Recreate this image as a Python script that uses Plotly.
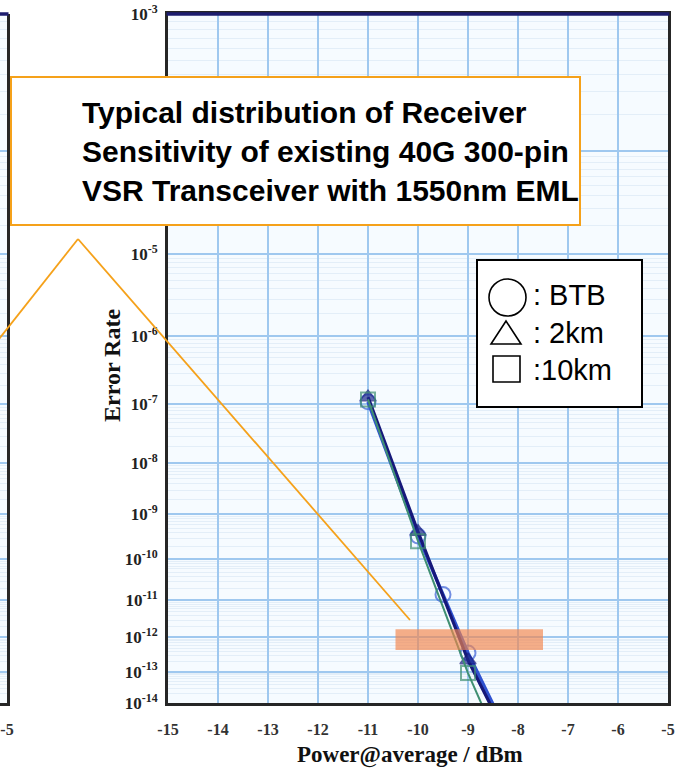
import numpy as np
import plotly.graph_objects as go

# ---- data -------------------------------------------------------------
# Optical power (dBm) and measured bit error rate for each link length.
# The last entry of each series continues the trend line below the axis floor.
power_btb = [-11, -10, -9.5, -9, -8.5]
ber_btb = [1.1e-7, 3.4e-10, 1.4e-11, 3.6e-13, 9e-15]

power_2km = [-11, -10, -9, -8.5]
ber_2km = [1.3e-7, 4.2e-10, 2.2e-13, 6e-15]

power_10km = [-11, -10, -9, -8.5]
ber_10km = [1.2e-7, 2.6e-10, 9e-14, 1.2e-15]

x_ticks = list(range(-15, -4))
ber_exponents = list(range(-3, -15, -1))          # 10^-3 ... 10^-14
minor_mantissas = [2, 3, 4, 5, 6, 7, 8, 9]

# ---- geometry ---------------------------------------------------------
W, H = 677, 771
TOP, BOTTOM = 14, 703            # plot area, px from top
LEFT, RIGHT = 168, 668


def px(x):
    return x / W


def py(y):
    return (BOTTOM - y) / (BOTTOM - TOP)


def ber_axis(v):
    """Error-rate scale: log of (-log10 BER), shifted."""
    return np.log10(-np.log10(np.asarray(v, dtype=float)) - 0.5)


y_lo = float(ber_axis(1e-14))
y_hi = float(ber_axis(1e-3))
major_vals = [float(ber_axis(10.0 ** e)) for e in ber_exponents]
major_text = [f"10<sup>{e}</sup>" for e in ber_exponents]
minor_vals = [float(ber_axis(m * 10.0 ** e)) for e in ber_exponents[1:] for m in minor_mantissas]

GRID = "#9fc8ef"
MINOR = "#e3eef8"
FRAME = "#262626"
NAVY = "#1c1c6e"
ORANGE = "#f5a11a"
SERIF = "Liberation Serif"
SANS = "Liberation Sans"


def sizes(n, s):
    return [s] * (n - 1) + [0]


fig = go.Figure()

fig.add_trace(go.Scatter(
    x=power_btb, y=ber_axis(ber_btb), mode="lines+markers", name="BTB",
    line=dict(color="#2f52d0", width=3.5),
    marker=dict(symbol="circle-open", size=sizes(len(power_btb), 15), color="#3a5fd6",
                line=dict(width=2)),
))
fig.add_trace(go.Scatter(
    x=power_2km, y=ber_axis(ber_2km), mode="lines+markers", name="2km",
    line=dict(color="#16187a", width=3.2),
    marker=dict(symbol="triangle-up", size=sizes(len(power_2km), 14), color="#1f2a8c",
                line=dict(color="#16187a", width=1.5)),
))
fig.add_trace(go.Scatter(
    x=power_10km, y=ber_axis(ber_10km), mode="lines+markers", name="10km",
    line=dict(color="#3f8f72", width=2),
    marker=dict(symbol="square-open", size=sizes(len(power_10km), 14), color="#3f8f72",
                line=dict(width=2)),
))
# neighbouring panel (only its right edge is in view) has no data of its own
fig.add_trace(go.Scatter(x=[], y=[], xaxis="x2", yaxis="y2", mode="lines",
                         hoverinfo="skip", showlegend=False))

axis_common = dict(showline=True, linecolor=FRAME, linewidth=3, zeroline=False,
                   gridcolor=GRID, gridwidth=2, automargin=False)

fig.update_layout(
    width=W, height=H, autosize=False,
    margin=dict(l=0, r=0, t=TOP, b=H - BOTTOM, pad=0, autoexpand=False),
    paper_bgcolor="white", plot_bgcolor="#f6fbff",
    showlegend=False,
    xaxis=dict(
        domain=[px(LEFT), px(RIGHT)], range=[-15, -5],
        tickmode="array", tickvals=x_ticks, ticktext=[str(v) for v in x_ticks],
        tickfont=dict(family=SERIF, size=16, color="#333", weight="bold"),
        ticks="", ticklabelstandoff=10, mirror=True, showgrid=True, **axis_common,
    ),
    yaxis=dict(
        domain=[0, 1], range=[y_lo, y_hi],
        tickmode="array", tickvals=major_vals, ticktext=major_text,
        tickfont=dict(family=SERIF, size=17, color="#222", weight="bold"),
        ticks="", ticklabelstandoff=4, mirror=True, showgrid=True,
        minor=dict(tickmode="array", tickvals=minor_vals, showgrid=True,
                   gridcolor=MINOR, gridwidth=1),
        **axis_common,
    ),
    xaxis2=dict(
        domain=[0, px(7)], range=[-5.3, -4.999], anchor="y2",
        tickmode="array", tickvals=[-5], ticktext=["-5"],
        tickfont=dict(family=SERIF, size=16, color="#333", weight="bold"),
        ticks="", ticklabelstandoff=10, showgrid=False, showline=True,
        linecolor=FRAME, linewidth=3, zeroline=False, automargin=False,
    ),
    yaxis2=dict(
        domain=[0, 1], range=[y_lo, y_hi], anchor="x2", side="right",
        tickmode="array", tickvals=major_vals, showticklabels=False, ticks="",
        minor=dict(tickmode="array", tickvals=minor_vals, showgrid=True,
                   gridcolor=MINOR, gridwidth=1),
        **axis_common,
    ),
)

shapes = []
# navy top edges of both panels
shapes.append(dict(type="line", xref="paper", yref="paper", x0=px(LEFT) - 0.002, x1=px(RIGHT) + 0.002,
                   y0=1, y1=1, line=dict(color=NAVY, width=3.5), layer="above"))
shapes.append(dict(type="line", xref="paper", yref="paper", x0=0, x1=px(8.5),
                   y0=1, y1=1, line=dict(color=NAVY, width=3.5), layer="above"))

# highlighted sensitivity band around 1e-12
shapes.append(dict(type="rect", xref="x", yref="y", x0=-10.45, x1=-7.5,
                   y0=float(ber_axis(1.7e-12)), y1=float(ber_axis(4.4e-13)),
                   fillcolor="rgba(243,132,74,0.66)", line=dict(width=0), layer="above"))

# callout box and its pointer lines
shapes.append(dict(type="rect", xref="paper", yref="paper", x0=px(11), x1=px(580),
                   y0=py(225), y1=py(77), fillcolor="white",
                   line=dict(color=ORANGE, width=2), layer="above"))
shapes.append(dict(type="line", xref="paper", yref="paper", x0=px(78), y0=py(239),
                   x1=px(410), y1=py(620), line=dict(color=ORANGE, width=1.8), layer="above"))
shapes.append(dict(type="line", xref="paper", yref="paper", x0=px(78), y0=py(239),
                   x1=px(-20), y1=py(363), line=dict(color=ORANGE, width=1.8), layer="above"))

# legend box with its symbols
shapes.append(dict(type="rect", xref="paper", yref="paper", x0=px(477), x1=px(642),
                   y0=py(407), y1=py(260), fillcolor="white",
                   line=dict(color="black", width=2), layer="above"))
shapes.append(dict(type="circle", xref="paper", yref="paper", x0=px(489), x1=px(526),
                   y0=py(316), y1=py(279), line=dict(color="black", width=1.6), layer="above"))
shapes.append(dict(type="path", xref="paper", yref="paper",
                   path=f"M {px(491)} {py(344)} L {px(521)} {py(344)} L {px(506)} {py(321)} Z",
                   line=dict(color="black", width=1.6), layer="above"))
shapes.append(dict(type="rect", xref="paper", yref="paper", x0=px(493), x1=px(520),
                   y0=py(382), y1=py(356), line=dict(color="black", width=1.6), layer="above"))
fig.update_layout(shapes=shapes)

annotations = [
    dict(xref="paper", yref="paper", x=px(80), y=py(151), xanchor="left", yanchor="middle",
         align="left", showarrow=False,
         text="Typical distribution of Receiver<br>Sensitivity of existing 40G 300-pin<br>"
              "VSR Transceiver with 1550nm EML",
         font=dict(family=SANS, size=30, color="black", weight="bold")),
    dict(xref="paper", yref="paper", x=px(531), y=py(295), xanchor="left", yanchor="middle",
         showarrow=False, text=": BTB", font=dict(family=SANS, size=29, color="black")),
    dict(xref="paper", yref="paper", x=px(531), y=py(333), xanchor="left", yanchor="middle",
         showarrow=False, text=": 2km", font=dict(family=SANS, size=29, color="black")),
    dict(xref="paper", yref="paper", x=px(531), y=py(370), xanchor="left", yanchor="middle",
         showarrow=False, text=":10km", font=dict(family=SANS, size=29, color="black")),
    dict(xref="paper", yref="paper", x=px(112), y=py(366), xanchor="center", yanchor="middle",
         textangle=-90, showarrow=False, text="Error Rate",
         font=dict(family=SERIF, size=24, color="#111", weight="bold")),
    dict(xref="paper", yref="paper", x=px(410), y=py(755), xanchor="center", yanchor="middle",
         showarrow=False, text="Power@average / dBm",
         font=dict(family=SERIF, size=23, color="#111", weight="bold")),
]
fig.update_layout(annotations=annotations)

fig.write_html("out.html")
